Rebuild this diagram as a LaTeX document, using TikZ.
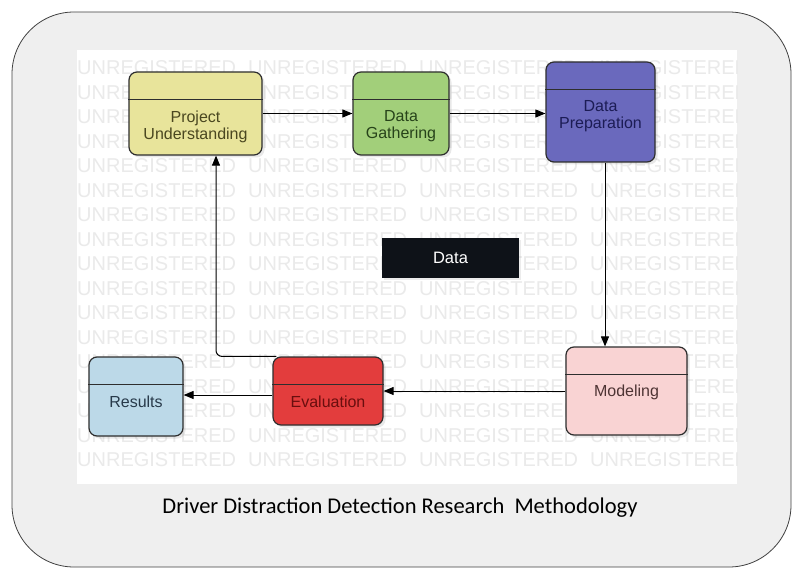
\documentclass[tikz,border=0pt]{standalone}
\usepackage{fontspec}
\setmainfont{Liberation Sans}
\newfontfamily\captionfont{Carlito}
\usetikzlibrary{arrows.meta,calc,shadows}

\definecolor{framefill}{HTML}{EFEFEF}
\definecolor{wmgray}{HTML}{EAEAEA}
\definecolor{boxline}{HTML}{2E2E2E}
\definecolor{puFill}{HTML}{E8E49B}
\definecolor{puText}{HTML}{4A4720}
\definecolor{dgFill}{HTML}{A2CF7A}
\definecolor{dgText}{HTML}{27431A}
\definecolor{dpFill}{HTML}{6A69BD}
\definecolor{dpText}{HTML}{1C1C55}
\definecolor{moFill}{HTML}{F9D3D3}
\definecolor{moText}{HTML}{4E3434}
\definecolor{evFill}{HTML}{E33D3D}
\definecolor{evText}{HTML}{6A0E0E}
\definecolor{reFill}{HTML}{BCD9E8}
\definecolor{reText}{HTML}{283A4A}
\definecolor{dataFill}{HTML}{0E1218}

\tikzset{
  stage/.style={draw=boxline, line width=1.2pt, rounded corners=8pt,
    inner sep=0pt,
    drop shadow={shadow xshift=2.5pt, shadow yshift=-2.5pt, opacity=0.18}},
  divider/.style={draw=boxline, line width=1.1pt},
  stagetext/.style={font=\fontsize{16}{17}\selectfont, align=center, inner sep=0pt},
  wm/.style={anchor=west, inner sep=0pt, text=wmgray, font=\fontsize{20}{20}\selectfont},
  arr/.style={draw=black, line width=1pt, -{Triangle[length=10pt,width=8pt]}},
}

\begin{document}
\begin{tikzpicture}[x=1pt,y=-1pt]
\useasboundingbox (0,0) rectangle (792,569);

% outer rounded frame and white drawing sheet
\draw[fill=framefill, draw=black!75, line width=0.8pt, rounded corners=62pt]
  (12,12) rectangle (791,567);
\fill[white] (77,50) rectangle (737,484);

% repeated watermark lettering on the sheet
\begin{scope}
  \clip (77,50) rectangle (737,484);
  \foreach \r in {0,...,16}
    \foreach \c in {0,...,3}
      \node[wm] (wm-\r-\c) at (77+171*\c, 68+24.5*\r) {UNREGISTERED};
\end{scope}

% process stages
\node[stage, fill=puFill, minimum width=133pt, minimum height=83pt] (PU) at (195.5,113.5) {};
\node[stage, fill=dgFill, minimum width=96pt, minimum height=83pt] (DG) at (401,113.5) {};
\node[stage, fill=dpFill, minimum width=109pt, minimum height=100pt] (DP) at (600.5,112) {};
\node[stage, fill=moFill, minimum width=121pt, minimum height=88pt] (MO) at (626.5,391) {};
\node[stage, fill=evFill, minimum width=110pt, minimum height=68pt] (EV) at (328,391) {};
\node[stage, fill=reFill, minimum width=94pt, minimum height=79pt] (RE) at (136,396.5) {};

% compartment dividers
\draw[divider] ($(PU.north west)+(0,28)$) -- ($(PU.north east)+(0,28)$);
\draw[divider] ($(DG.north west)+(0,28)$) -- ($(DG.north east)+(0,28)$);
\draw[divider] ($(DP.north west)+(0,28)$) -- ($(DP.north east)+(0,28)$);
\draw[divider] ($(MO.north west)+(0,28)$) -- ($(MO.north east)+(0,28)$);
\draw[divider] ($(EV.north west)+(0,28)$) -- ($(EV.north east)+(0,28)$);
\draw[divider] ($(RE.north west)+(0,28)$) -- ($(RE.north east)+(0,28)$);

% stage labels
\node[stagetext, text=puText] (PUt) at (195.5,126.5) {Project\\Understanding};
\node[stagetext, text=dgText] (DGt) at (401,126.5) {Data\\Gathering};
\node[stagetext, text=dpText] (DPt) at (600.5,116) {Data\\Preparation};
\node[stagetext, text=moText] (MOt) at (626.5,392) {Modeling};
\node[stagetext, text=evText] (EVt) at (328,402) {Evaluation};
\node[stagetext, text=reText] (REt) at (136,402) {Results};

% data store
\node[fill=dataFill, minimum width=137pt, minimum height=40pt, inner sep=0pt,
      text=white, font=\fontsize{16.5}{18}\selectfont,
      drop shadow={shadow xshift=2pt, shadow yshift=-2pt, opacity=0.15}]
  (DATA) at (450.5,258) {Data};

% flow between stages
\draw[arr] (PU.east) -- (DG.west);
\draw[arr] (DG.east) -- (DG.east -| DP.west);
\coordinate (dpOut) at ($(DP.south)+(4.5,0)$);
\draw[arr] (dpOut) -- (dpOut |- MO.north);
\draw[arr] (MO.west) -- (EV.east);
\coordinate (evOut) at ($(EV.west)+(0,4)$);
\draw[arr] (evOut) -- (evOut -| RE.east);
\coordinate (evBack) at ($(EV.north west)+(4,0)$);
\coordinate (puIn) at ($(PU.south)+(20.5,0)$);
\draw[arr, rounded corners=6pt] (evBack) -| (puIn);

% caption
\node[font=\captionfont\fontsize{22.5}{26}\selectfont, inner sep=0pt] (cap) at (400,508)
  {Driver Distraction Detection Research\ \ Methodology};
\end{tikzpicture}
\end{document}
